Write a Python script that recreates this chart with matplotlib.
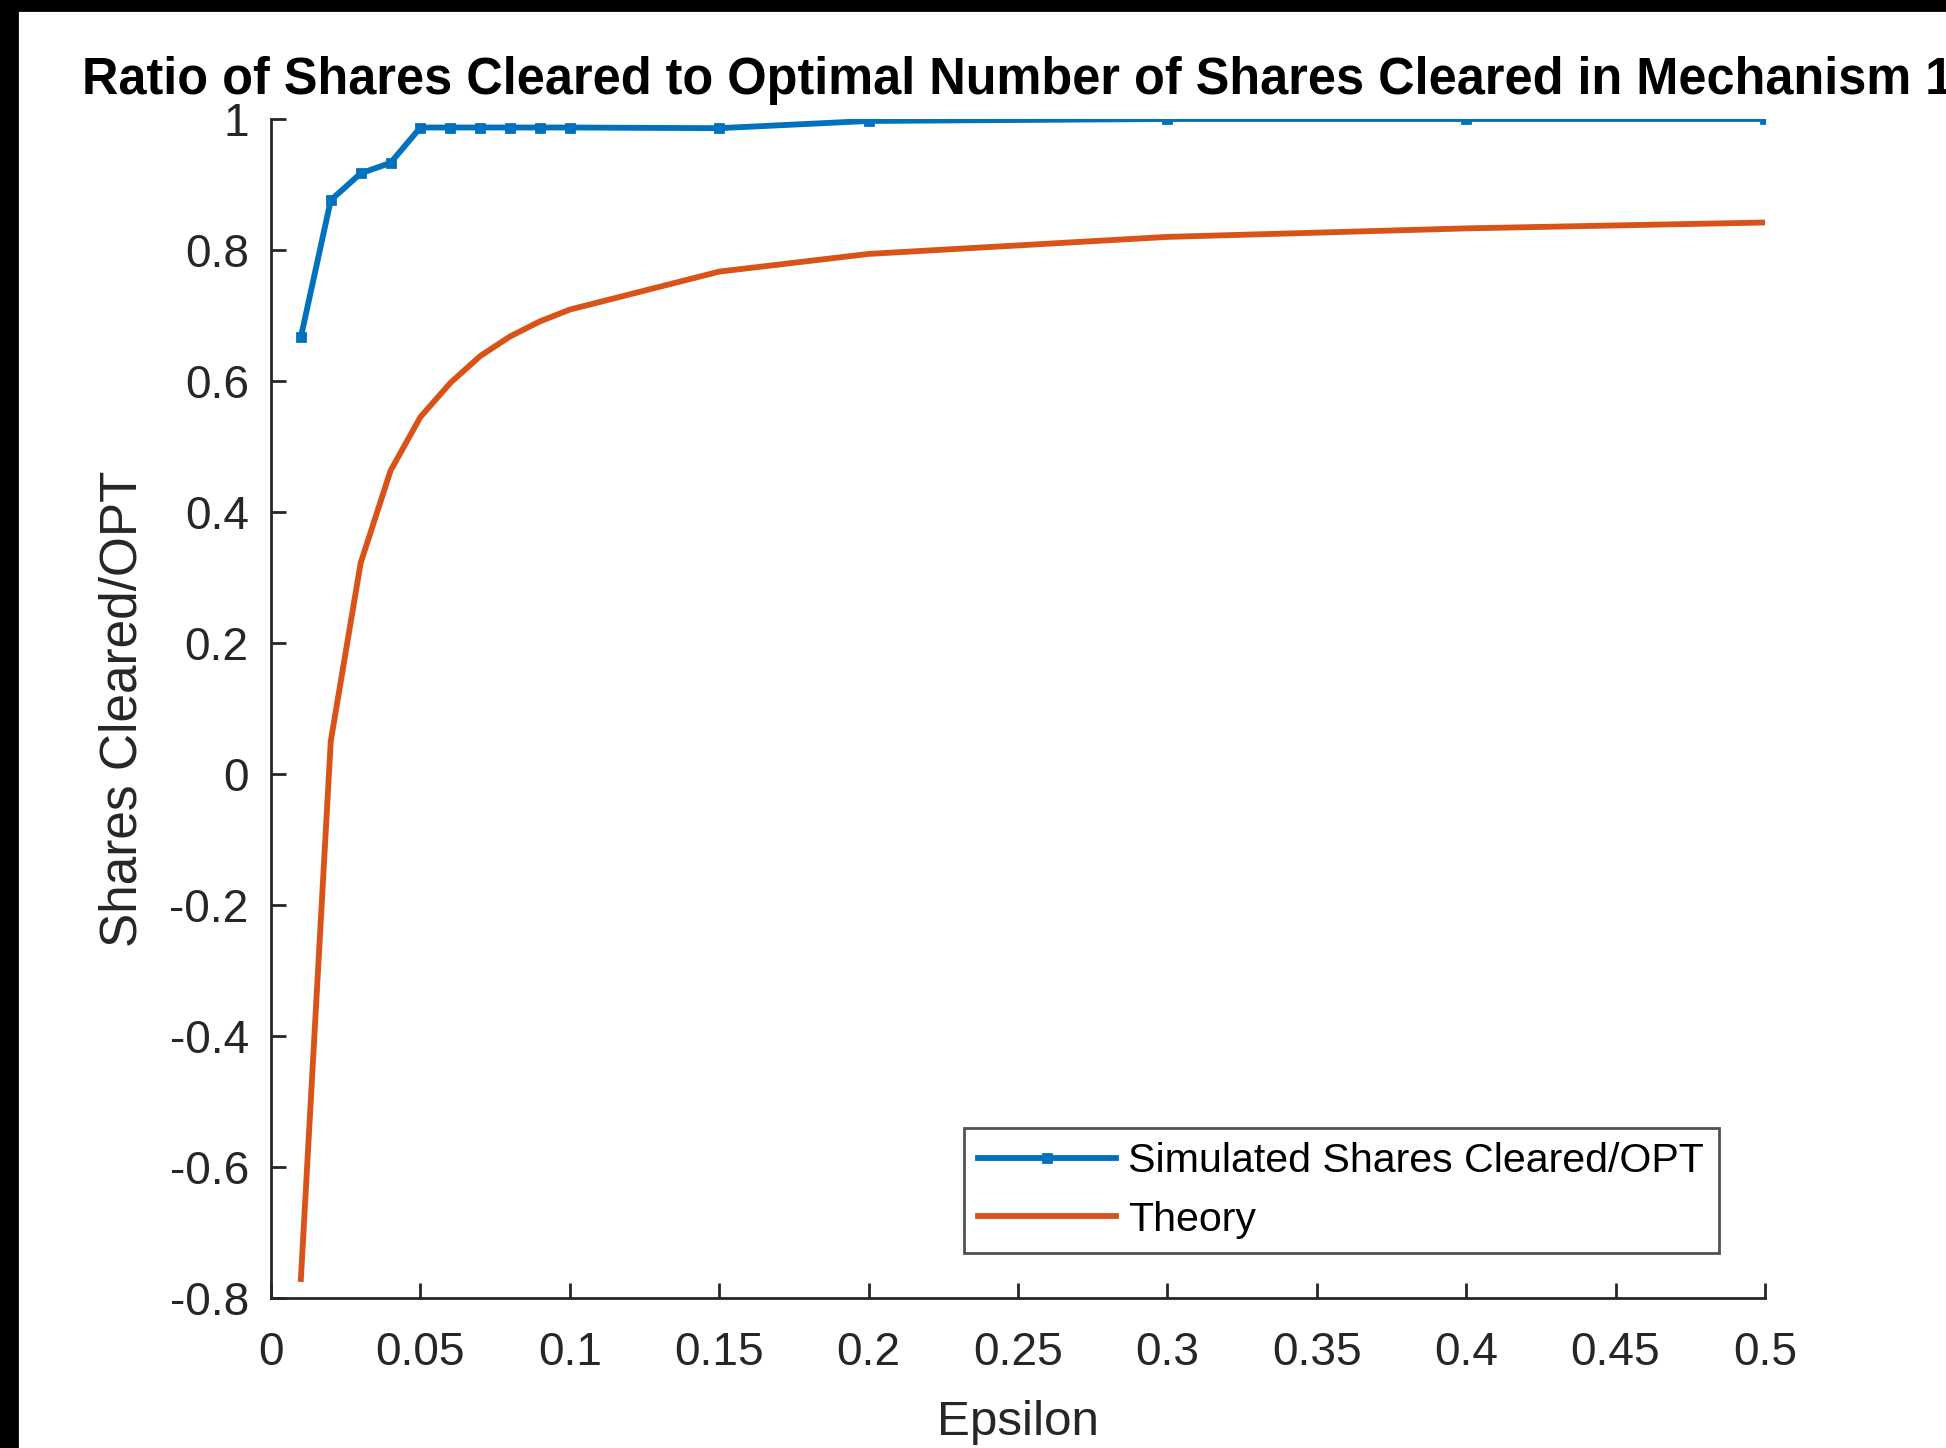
import matplotlib
matplotlib.use("Agg")
import matplotlib.pyplot as plt
from matplotlib.patches import Rectangle
from matplotlib.ticker import FormatStrFormatter

# epsilon values used in the run
epsilon = [0.01, 0.02, 0.03, 0.04, 0.05, 0.06, 0.07, 0.08, 0.09, 0.1,
           0.15, 0.2, 0.3, 0.4, 0.5]
# simulated shares cleared / OPT
simulated = [0.667, 0.876, 0.917, 0.933, 0.987, 0.987, 0.987, 0.987, 0.987, 0.987,
             0.986, 0.997, 1.0, 1.0, 1.0]
# theoretical bound
theory = [-0.771, 0.05, 0.322, 0.463, 0.545, 0.597, 0.638, 0.668, 0.691, 0.709,
          0.767, 0.794, 0.82, 0.833, 0.842]

x_ticks = [0, 0.05, 0.1, 0.15, 0.2, 0.25, 0.3, 0.35, 0.4, 0.45, 0.5]
y_ticks = [-0.8, -0.6, -0.4, -0.2, 0, 0.2, 0.4, 0.6, 0.8, 1]

plt.rcParams['font.family'] = ['Liberation Sans', 'DejaVu Sans']
plt.rcParams['axes.unicode_minus'] = False

W, H = 1946, 1448
fig = plt.figure(figsize=(W / 200, H / 200), dpi=200)
ax = fig.add_axes([271 / W, 1 - 1298 / H, (1765 - 271) / W, (1298 - 119) / H])

blue = (0, 0.447, 0.741)
orange = (0.85, 0.325, 0.098)
dark = (0.15, 0.15, 0.15)

ax.plot(epsilon, simulated, color=blue, linewidth=2.1, marker='s', markersize=3.2,
        label="Simulated Shares Cleared/OPT")
ax.plot(epsilon, theory, color=orange, linewidth=2.1, label="Theory")

ax.set_xlim(0, 0.5)
ax.set_ylim(-0.8, 1)
ax.set_xticks(x_ticks)
ax.set_yticks(y_ticks)
ax.xaxis.set_major_formatter(FormatStrFormatter('%g'))
ax.yaxis.set_major_formatter(FormatStrFormatter('%g'))

for side in ['top', 'right']:
    ax.spines[side].set_visible(False)
for side in ['left', 'bottom']:
    ax.spines[side].set_color(dark)
    ax.spines[side].set_linewidth(1.0)
ax.tick_params(direction='in', length=5.5, width=1.0, color=dark,
               labelcolor=dark, labelsize=16.6)
ax.tick_params(axis='y', pad=8)
ax.tick_params(axis='x', pad=12)

ax.set_xlabel("Epsilon", fontsize=17.8, color=dark, labelpad=9)
ax.set_ylabel("Shares Cleared/OPT", fontsize=18.5, color=dark, labelpad=8)
# the reference screenshot clips the end of the title at the right edge
ax.set_title("Ratio of Shares Cleared to Optimal Number of Shares Cleared in Mechanism 1",
             fontsize=18.2, fontweight='bold', pad=9)

leg = ax.legend(loc='lower right', bbox_to_anchor=(0.969, 0.038), borderaxespad=0,
                fontsize=14.8, fancybox=False, frameon=True, handlelength=3.35,
                handletextpad=0.3, labelspacing=0.5, borderpad=0.35)
leg.get_frame().set_edgecolor(dark)
leg.get_frame().set_linewidth(1.0)

# black strips along the top and left edges of the screenshot
fig.add_artist(Rectangle((0, 1 - 10 / H), 1, 10 / H, transform=fig.transFigure,
                         color='black', zorder=10))
fig.add_artist(Rectangle((0, 0), 17 / W, 1, transform=fig.transFigure,
                         color='black', zorder=10))

fig.savefig("out.png", dpi=200)
